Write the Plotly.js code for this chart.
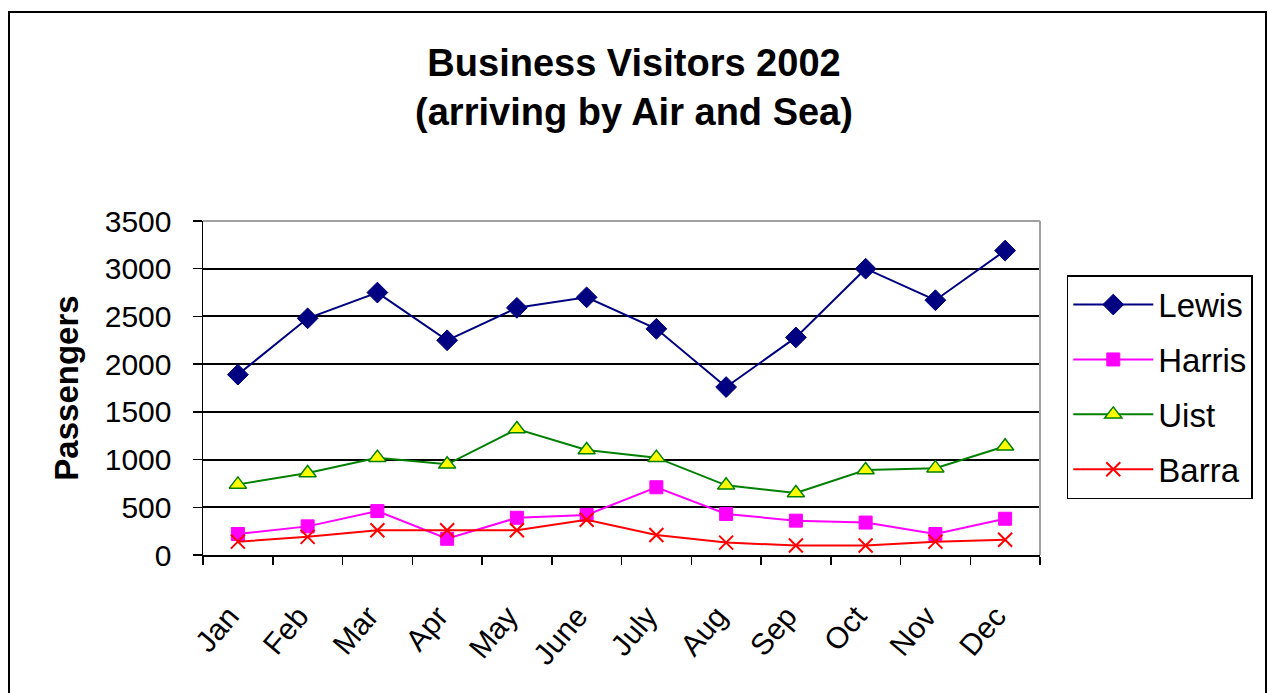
<!DOCTYPE html>
<html>
<head>
<meta charset="utf-8">
<script src="https://cdn.plot.ly/plotly-3.0.1.min.js"></script>
<style>
  html, body { margin: 0; padding: 0; background: #ffffff; }
  #chart { width: 1268px; height: 693px; }
</style>
</head>
<body>
<div id="chart"></div>
<script>
const months = ["Jan", "Feb", "Mar", "Apr", "May", "June", "July", "Aug", "Sep", "Oct", "Nov", "Dec"];
const lewis  = [1890, 2480, 2750, 2250, 2590, 2700, 2370, 1760, 2280, 3000, 2670, 3190];
const harris = [220, 300, 460, 170, 390, 420, 710, 430, 360, 340, 220, 380];
const uist   = [740, 860, 1020, 950, 1320, 1100, 1020, 730, 650, 890, 910, 1140];
const barra  = [140, 190, 260, 260, 260, 370, 210, 130, 100, 100, 140, 160];
const yTicks = [0, 500, 1000, 1500, 2000, 2500, 3000, 3500];

const FONT = "Arial, 'Liberation Sans', sans-serif";

const traces = [
  { name: "Lewis", y: lewis, line: { color: "#000080", width: 2 },
    marker: { symbol: "diamond", size: 16, color: "#000080", line: { color: "#000080", width: 1 } } },
  { name: "Harris", y: harris, line: { color: "#FF00FF", width: 2 },
    marker: { symbol: "square", size: 13, color: "#FF00FF", line: { color: "#FF00FF", width: 1 } } },
  { name: "Uist", y: uist, line: { color: "#008000", width: 2 },
    marker: { symbol: "triangle-up", size: 15, color: "#FFFF00", line: { color: "#008000", width: 1.5 } } },
  { name: "Barra", y: barra, line: { color: "#FF0000", width: 2 },
    marker: { symbol: "x-thin-open", size: 14, color: "#FF0000", line: { color: "#FF0000", width: 2 } } }
].map((t, i) => Object.assign({
  type: "scatter", mode: "lines+markers", x: months, legendgroup: "g" + i
}, t));

const layout = {
  width: 1268, height: 693,
  paper_bgcolor: "#ffffff", plot_bgcolor: "#ffffff",
  margin: { l: 203, r: 228, t: 221, b: 138 },
  font: { family: FONT, color: "#000000", size: 31 },
  title: {
    text: "<b>Business Visitors 2002<br>(arriving by Air and Sea)</b>",
    font: { family: FONT, size: 38, color: "#000000" },
    x: 0.5, xref: "container", xanchor: "center",
    y: 1 - 76 / 693, yref: "container", yanchor: "top"
  },
  showlegend: true,
  legend: {
    x: 1.032, xanchor: "left", y: 0.838, yanchor: "top",
    bordercolor: "#000000", borderwidth: 1.5, bgcolor: "#ffffff",
    font: { family: FONT, size: 33, color: "#000000" },
    traceorder: "grouped", tracegroupgap: 9, itemwidth: 80
  },
  xaxis: {
    type: "category",
    range: [-0.5, 11.5],
    tickangle: -50,
    tickson: "boundaries",
    ticks: "outside", ticklen: 8, tickwidth: 1.5, tickcolor: "#000000",
    ticklabelstandoff: 30,
    ticklabelshift: -9,
    showline: true, linecolor: "#000000", linewidth: 1.5,
    showgrid: false, zeroline: false,
    tickfont: { family: FONT, size: 30, color: "#000000" },
    fixedrange: true
  },
  yaxis: {
    range: [0, 3500],
    tickvals: yTicks,
    ticktext: yTicks.map(String),
    ticks: "outside", ticklen: 9, tickwidth: 1.5, tickcolor: "#000000",
    ticklabelstandoff: 15,
    showline: true, linecolor: "#000000", linewidth: 1.5,
    showgrid: true, gridcolor: "#000000", gridwidth: 2,
    zeroline: false,
    tickfont: { family: FONT, size: 30, color: "#000000" },
    title: { text: "<b>Passengers</b>", font: { family: FONT, size: 33, color: "#000000" }, standoff: 16 },
    fixedrange: true
  },
  shapes: [
    { type: "line", xref: "paper", yref: "paper", x0: 0, x1: 1, y0: 1, y1: 1,
      line: { color: "#a0a0a0", width: 2 }, layer: "above" },
    { type: "line", xref: "paper", yref: "paper", x0: 1, x1: 1, y0: 0, y1: 1,
      line: { color: "#a0a0a0", width: 2 }, layer: "above" },
    { type: "rect", xref: "paper", yref: "paper",
      x0: (9 - 203) / 837, x1: (1266 - 203) / 837,
      y0: (555 - 720) / 334, y1: (555 - 12) / 334,
      line: { color: "#000000", width: 2 }, fillcolor: "rgba(0,0,0,0)", layer: "below" }
  ]
};

Plotly.newPlot("chart", traces, layout, { displayModeBar: false, staticPlot: true });
</script>
</body>
</html>
